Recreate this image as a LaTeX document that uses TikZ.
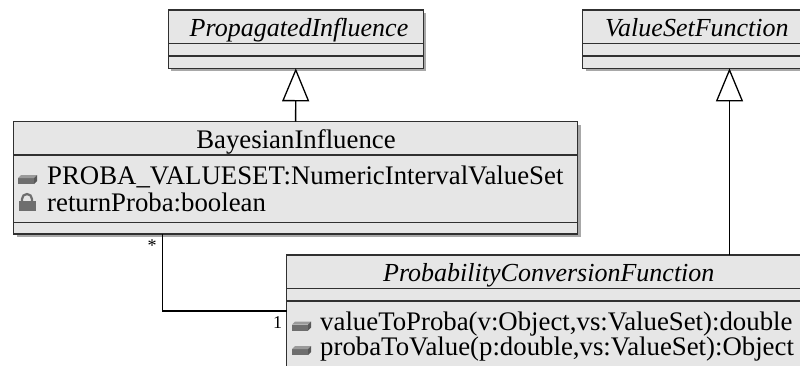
\documentclass[tikz,border=0pt]{standalone}
\usepackage{fontspec}
\setmainfont{Liberation Serif}
\newfontfamily\umlfont{Liberation Serif}
\usetikzlibrary{arrows.meta,shadows}
\definecolor{boxfill}{HTML}{E6E6E6}
\definecolor{boxline}{HTML}{303030}
\definecolor{shadowc}{HTML}{A8A8A8}
\definecolor{iconfront}{HTML}{6E6E6E}
\definecolor{icontop}{HTML}{9A9A9A}
\begin{document}
\begin{tikzpicture}[x=1pt,y=-1pt,
  classbox/.style={draw=boxline, line width=1.3pt, fill=boxfill, anchor=north west,
    inner sep=0pt, outer sep=0pt,
    drop shadow={shadow xshift=3pt, shadow yshift=-3pt, fill=shadowc, opacity=1, draw=none}},
  sepline/.style={draw=boxline, line width=1.3pt},
  txt/.style={inner sep=0pt, font=\umlfont\fontsize{26.8}{27}\selectfont},
  itxt/.style={inner sep=0pt, font=\umlfont\fontsize{26}{27}\selectfont\itshape},
  mult/.style={inner sep=0pt, font=\umlfont\fontsize{18}{18}\selectfont},
  inherit/.style={draw=black, line width=1.3pt, -{Triangle[open, width=27pt, length=33pt, line width=1.3pt]}},
  assoc/.style={draw=black, line width=1.3pt},
  pubicon/.pic={
    \fill[iconfront] (0,-6) rectangle (16,0);
    \fill[icontop] (0,-6) -- (3,-9) -- (19,-9) -- (16,-6) -- cycle;
    \fill[iconfront!80!black] (16,-6) -- (19,-9) -- (19,-3) -- (16,0) -- cycle;
  },
  lockicon/.pic={
    \fill[iconfront] (0,-10) rectangle (17,0);
    \draw[iconfront, line width=2.2pt] (3.5,-10) -- (3.5,-12) arc[start angle=180, end angle=0, x radius=5, y radius=-5] -- (13.5,-10);
  }
]
\useasboundingbox (0,0) rectangle (800,365);
\clip (0,0) rectangle (800,365);

% class boxes
\node[classbox, minimum width=255pt, minimum height=58.3pt] (pi) at (168.3,10) {};
\node[classbox, minimum width=232pt, minimum height=58.3pt] (vsf) at (582.7,10) {};
\node[classbox, minimum width=564.2pt, minimum height=112.3pt] (bi) at (13.5,121.7) {};
\node[classbox, minimum width=525pt, minimum height=130pt] (pcf) at (286.7,255) {};

% compartment separators
\draw[sepline] (pi.west |- 0,43.3) -- (pi.east |- 0,43.3);
\draw[sepline] (pi.west |- 0,56) -- (pi.east |- 0,56);
\draw[sepline] (vsf.west |- 0,43.3) -- (vsf.east |- 0,43.3);
\draw[sepline] (vsf.west |- 0,56) -- (vsf.east |- 0,56);
\draw[sepline] (bi.west |- 0,155) -- (bi.east |- 0,155);
\draw[sepline] (bi.west |- 0,222.3) -- (bi.east |- 0,222.3);
\draw[sepline] (pcf.west |- 0,288.3) -- (pcf.east |- 0,288.3);
\draw[sepline] (pcf.west |- 0,301) -- (pcf.east |- 0,301);

% texts
\node[itxt, anchor=base] (tpi) at (299,36) {PropagatedInfluence};
\node[itxt, anchor=base west] (tvsf) at (605,36) {ValueSetFunction};
\node[txt, anchor=base] (tbi) at (296,148) {BayesianInfluence};
\node[txt, anchor=base west] (a1) at (47,184) {PROBA\_VALUESET:NumericIntervalValueSet};
\node[txt, anchor=base west] (a2) at (47,211) {returnProba:boolean};
\node[itxt, anchor=base west] (tpcf) at (383,281) {ProbabilityConversionFunction};
\node[txt, anchor=base west] (m1) at (320,330.5) {valueToProba(v:Object,vs:ValueSet):double};
\node[txt, anchor=base west] (m2) at (320,355) {probaToValue(p:double,vs:ValueSet):Object};

% icons
\pic at (18,184) {pubicon};
\pic at (18.5,211) {lockicon};
\pic at (292,330.5) {pubicon};
\pic at (292,355) {pubicon};

% generalizations
\coordinate (vx) at (729.5,0);
\draw[inherit] (bi.north) -- (pi.south);
\draw[inherit] (pcf.north -| vx) -- (vsf.south -| vx);

% association
\coordinate (ax) at (162.3,0);
\coordinate (ay) at (0,311);
\draw[assoc] (bi.south -| ax) |- (pcf.west |- ay);
\node[mult, anchor=base] (mstar) at (152,251) {*};
\node[mult, anchor=base] (mone) at (277.5,328) {1};
\end{tikzpicture}
\end{document}
